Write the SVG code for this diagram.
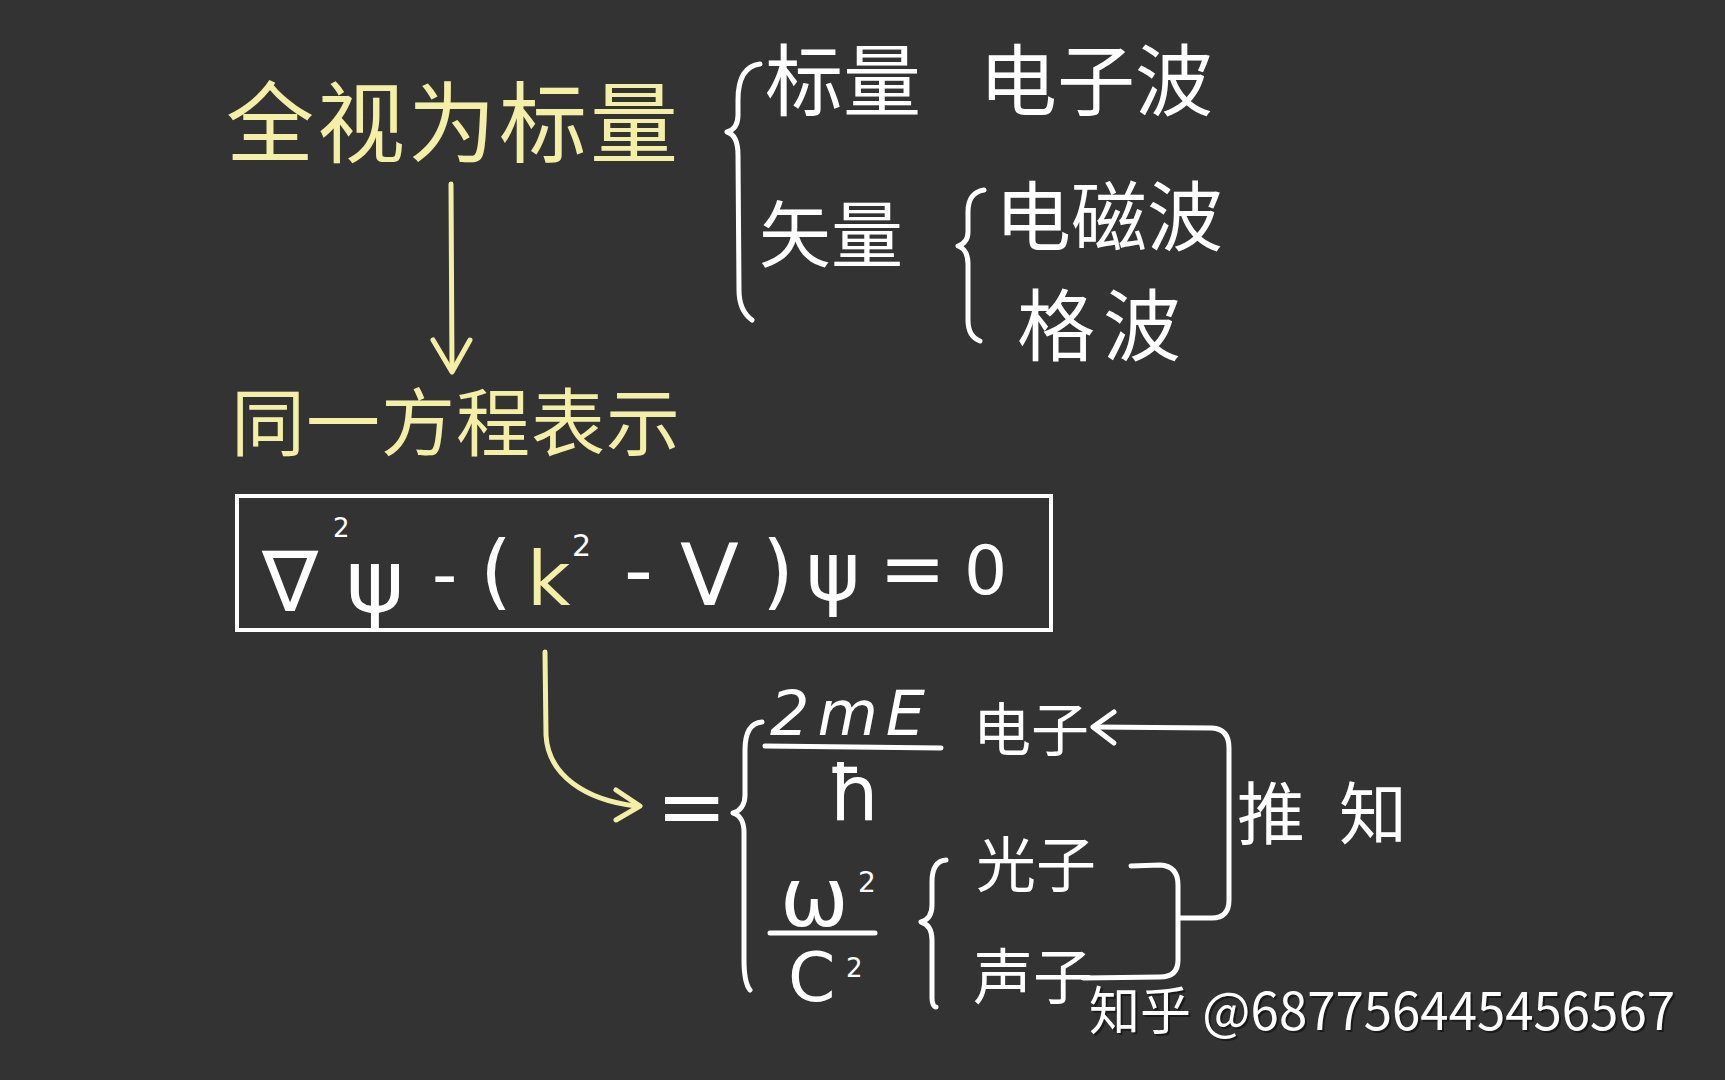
<svg xmlns="http://www.w3.org/2000/svg" width="1725" height="1080" viewBox="0 0 1725 1080">
<style>
.cjk{font-family:"Noto Sans CJK SC","Noto Sans",sans-serif;}
.y{fill:#f4efa6;}
.w{fill:#ffffff;}
.m{font-family:"DejaVu Sans","Liberation Sans",sans-serif;fill:#ffffff;}
.ln{fill:none;stroke:#ffffff;stroke-width:5;stroke-linecap:round;stroke-linejoin:round;}
.yl{fill:none;stroke:#f4efa6;stroke-width:5;stroke-linecap:round;stroke-linejoin:round;}
.wm{font-family:"Noto Sans CJK SC","Noto Sans",sans-serif;font-size:52px;}
</style>
<rect width="1725" height="1080" fill="#333333"/>

<g id="all-scalar"><text class="cjk y" x="226" y="155" font-size="88" letter-spacing="3">全视为标量</text></g>
<g id="same-equation"><text class="cjk y" x="231" y="450" font-size="74" letter-spacing="1">同一方程表示</text></g>
<g id="scalar-electron"><text class="cjk w" y="110" font-size="78"><tspan x="765">标量</tspan><tspan x="979">电子波</tspan></text></g>
<g id="vector"><text class="cjk w" x="759" y="261" font-size="72">矢量</text></g>
<g id="em-wave"><text class="cjk w" x="995" y="245" font-size="76">电磁波</text></g>
<g id="lattice-wave"><text class="cjk w" x="1017" y="355" font-size="78" letter-spacing="8">格波</text></g>

<g id="equation">
<rect x="237" y="496" width="814" height="134" fill="none" stroke="#ffffff" stroke-width="4"/>
<text class="m" font-size="84"><tspan x="262" y="611">∇</tspan><tspan x="333" y="537" font-size="26">2</tspan><tspan x="346" y="612" font-size="88">ψ</tspan><tspan x="432" y="598" font-size="70">-</tspan><tspan x="480" y="599" font-size="82">(</tspan><tspan x="527" y="605" font-size="75" fill="#f4efa6">k</tspan><tspan x="572" y="556" font-size="30">2</tspan><tspan x="624" y="598" font-size="80">-</tspan><tspan x="680" y="605" font-size="86">V</tspan><tspan x="762" y="599" font-size="82">)</tspan><tspan x="806" y="600" font-size="82">ψ</tspan><tspan x="879" y="596" font-size="80">=</tspan><tspan x="964" y="594" font-size="68">0</tspan></text>
</g>

<g id="cases">
<text class="m" x="656" y="836" font-size="85">=</text>
<text class="m" x="770" y="735" font-size="62" font-style="italic" letter-spacing="8">2mE</text>
<line class="ln" x1="765" y1="746" x2="941" y2="748"/>
<text class="m" x="828" y="820" font-size="76">ħ</text>
<text class="m" x="780" y="926" font-size="82">ω</text>
<text class="m" x="858" y="892" font-size="28">2</text>
<line class="ln" x1="770" y1="933" x2="875" y2="933"/>
<text class="m" x="788" y="1001" font-size="68">C</text>
<text class="m" x="846" y="977" font-size="26">2</text>
</g>

<g id="electron"><text class="cjk w" x="973" y="751" font-size="58">电子</text></g>
<g id="photon"><text class="cjk w" x="976" y="887" font-size="60">光子</text></g>
<g id="phonon"><text class="cjk w" x="973" y="999" font-size="60">声子</text></g>
<g id="infer"><text class="cjk w" x="1237" y="839" font-size="68" letter-spacing="34">推知</text></g>

<g id="connectors">
<path class="yl" d="M451 184 L452 370"/>
<path class="yl" d="M433 340 L452 372 L470 340"/>
<path class="ln" d="M760 64 C744 66 738 80 738 100 L738 115 C738 125 734 130 727 132 C734 134 738 142 738 155 L739 290 C739 305 745 315 752 320"/>
<path class="ln" d="M984 190 C972 192 968 200 968 212 L968 232 C968 240 964 244 958 246 C964 248 968 254 968 264 L968 320 C968 332 972 338 980 341"/>
<path class="yl" d="M545 652 L546 735 C548 775 585 800 636 806"/>
<path class="yl" d="M616 790 L640 806 L616 820"/>
<path class="ln" d="M762 722 C749 723 745 735 745 750 L745 795 C745 805 740 811 733 813 C740 815 744 822 744 832 L744 960 C744 975 746 985 750 990"/>
<path class="ln" d="M946 860 C935 861 932 870 932 882 L932 905 C932 915 928 920 921 922 C928 924 932 930 932 940 L932 998 C932 1004 934 1007 936 1007"/>
<path class="ln" d="M1095 727 L1212 728 Q1229 729 1229 748 L1229 900 Q1229 918 1212 918 L1180 918"/>
<path class="ln" d="M1114 712 L1093 727 L1114 743"/>
<path class="ln" d="M1131 866 L1160 865 Q1178 866 1178 885 L1178 960 Q1178 977 1160 977 L1083 978"/>
</g>

<g id="watermark">
<text class="wm" x="1091" y="1032" fill="#111111" opacity="0.7" textLength="586" lengthAdjust="spacingAndGlyphs">知乎 @687756445456567</text>
<text class="wm" x="1089" y="1030" fill="#ffffff" textLength="586" lengthAdjust="spacingAndGlyphs">知乎 @687756445456567</text>
</g>
</svg>
